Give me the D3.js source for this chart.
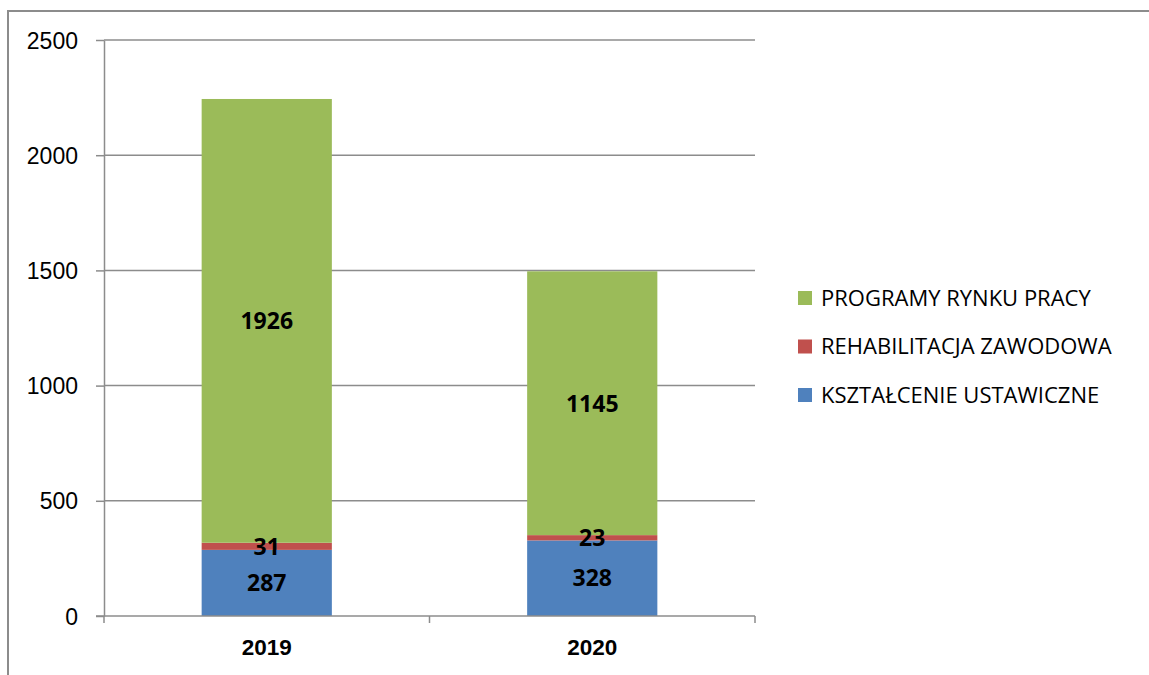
<!DOCTYPE html>
<html>
<head>
<meta charset="utf-8">
<script src="https://cdn.jsdelivr.net/npm/d3@7"></script>
<style>
    body { margin: 0; background: #fff; }
    svg { display: block; font-family: "Open Sans", "Liberation Sans", sans-serif; }
    .frame { fill: none; stroke: #8c8c8c; stroke-width: 2; }
    .axis path, .axis line, .grid line { stroke: #8c8c8c; stroke-width: 1.5; }
    .axis text { fill: #000; font-size: 23px; }
    .x-axis text { font-weight: bold; font-size: 22.5px; }
    .value { font-size: 23px; font-weight: bold; fill: #000; }
    .legend text { font-size: 22px; fill: #000; }
</style>
</head>
<body>
<svg id="chart" width="1149" height="675"></svg>
<script>
(function () {

    var years = ['2019', '2020'];
    var series = ['KSZTAŁCENIE USTAWICZNE', 'REHABILITACJA ZAWODOWA', 'PROGRAMY RYNKU PRACY'];
    var ksztalcenie = [287, 328];
    var rehabilitacja = [31, 23];
    var programy = [1926, 1145];
    var yTicks = [0, 500, 1000, 1500, 2000, 2500];
    var colors = ['#4f81bd', '#c0504d', '#9bbb59'];

    var values = [ksztalcenie, rehabilitacja, programy];
    var table = years.map(function (y, i) {
        var row = { year: y };
        series.forEach(function (s, k) { row[s] = values[k][i]; });
        return row;
    });

    var svg = d3.select('#chart');
    var left = 104, right = 755, top = 40, bottom = 616;

    svg.append('rect').attr('class', 'frame')
        .attr('x', 8).attr('y', 11).attr('width', 1160).attr('height', 700);

    var x = d3.scaleBand().domain(years).range([left, right]).paddingInner(0.6).paddingOuter(0.3);
    var y = d3.scaleLinear().domain([0, 2500]).range([bottom, top]);

    svg.append('g').attr('class', 'grid')
        .selectAll('line').data(yTicks.slice(1)).enter().append('line')
        .attr('x1', left).attr('x2', right)
        .attr('y1', function (d) { return y(d); })
        .attr('y2', function (d) { return y(d); });

    var stack = d3.stack().keys(series)(table);

    var layer = svg.append('g').selectAll('g').data(stack).enter().append('g')
        .attr('fill', function (d, i) { return colors[i]; });

    layer.selectAll('rect').data(function (d) { return d; }).enter().append('rect')
        .attr('x', function (d) { return x(d.data.year); })
        .attr('width', x.bandwidth())
        .attr('y', function (d) { return y(d[1]); })
        .attr('height', function (d) { return y(d[0]) - y(d[1]); });

    var yAxis = svg.append('g').attr('class', 'axis')
        .attr('transform', 'translate(' + left + ',0)')
        .call(d3.axisLeft(y).tickValues(yTicks).tickFormat(d3.format('d'))
            .tickSize(8).tickPadding(18).tickSizeOuter(0));
    yAxis.selectAll('text').attr('dy', '0.35em');

    var xAxis = svg.append('g').attr('class', 'axis x-axis')
        .attr('transform', 'translate(0,' + bottom + ')')
        .call(d3.axisBottom(x).tickSize(0).tickPadding(23).tickSizeOuter(0));
    xAxis.select('.domain').attr('d', 'M' + (left - 8) + ',0H' + right);

    // tick marks between categories
    var step = x.step();
    xAxis.selectAll('.sep').data(d3.range(years.length + 1)).enter().append('line')
        .attr('class', 'sep')
        .attr('x1', function (i) { return left + i * step; })
        .attr('x2', function (i) { return left + i * step; })
        .attr('y1', 0).attr('y2', 7);

    // value labels on top of all segments
    var labels = svg.append('g');
    stack.forEach(function (s) {
        labels.selectAll(null).data(s).enter().append('text')
            .attr('class', 'value')
            .attr('text-anchor', 'middle')
            .attr('dy', '0.36em')
            .attr('x', function (d) { return x(d.data.year) + x.bandwidth() / 2; })
            .attr('y', function (d) { return (y(d[0]) + y(d[1])) / 2; })
            .text(function (d) { return d[1] - d[0]; });
    });

    var legend = svg.append('g').attr('class', 'legend')
        .selectAll('g').data(series.slice().reverse()).enter().append('g')
        .attr('transform', function (d, i) { return 'translate(798,' + (298 + i * 48.5) + ')'; });

    legend.append('rect')
        .attr('y', -7).attr('width', 14).attr('height', 14)
        .attr('fill', function (d) { return colors[series.indexOf(d)]; });

    legend.append('text')
        .attr('x', 23).attr('dy', '0.35em')
        .text(function (d) { return d; });

})();
</script>
</body>
</html>
